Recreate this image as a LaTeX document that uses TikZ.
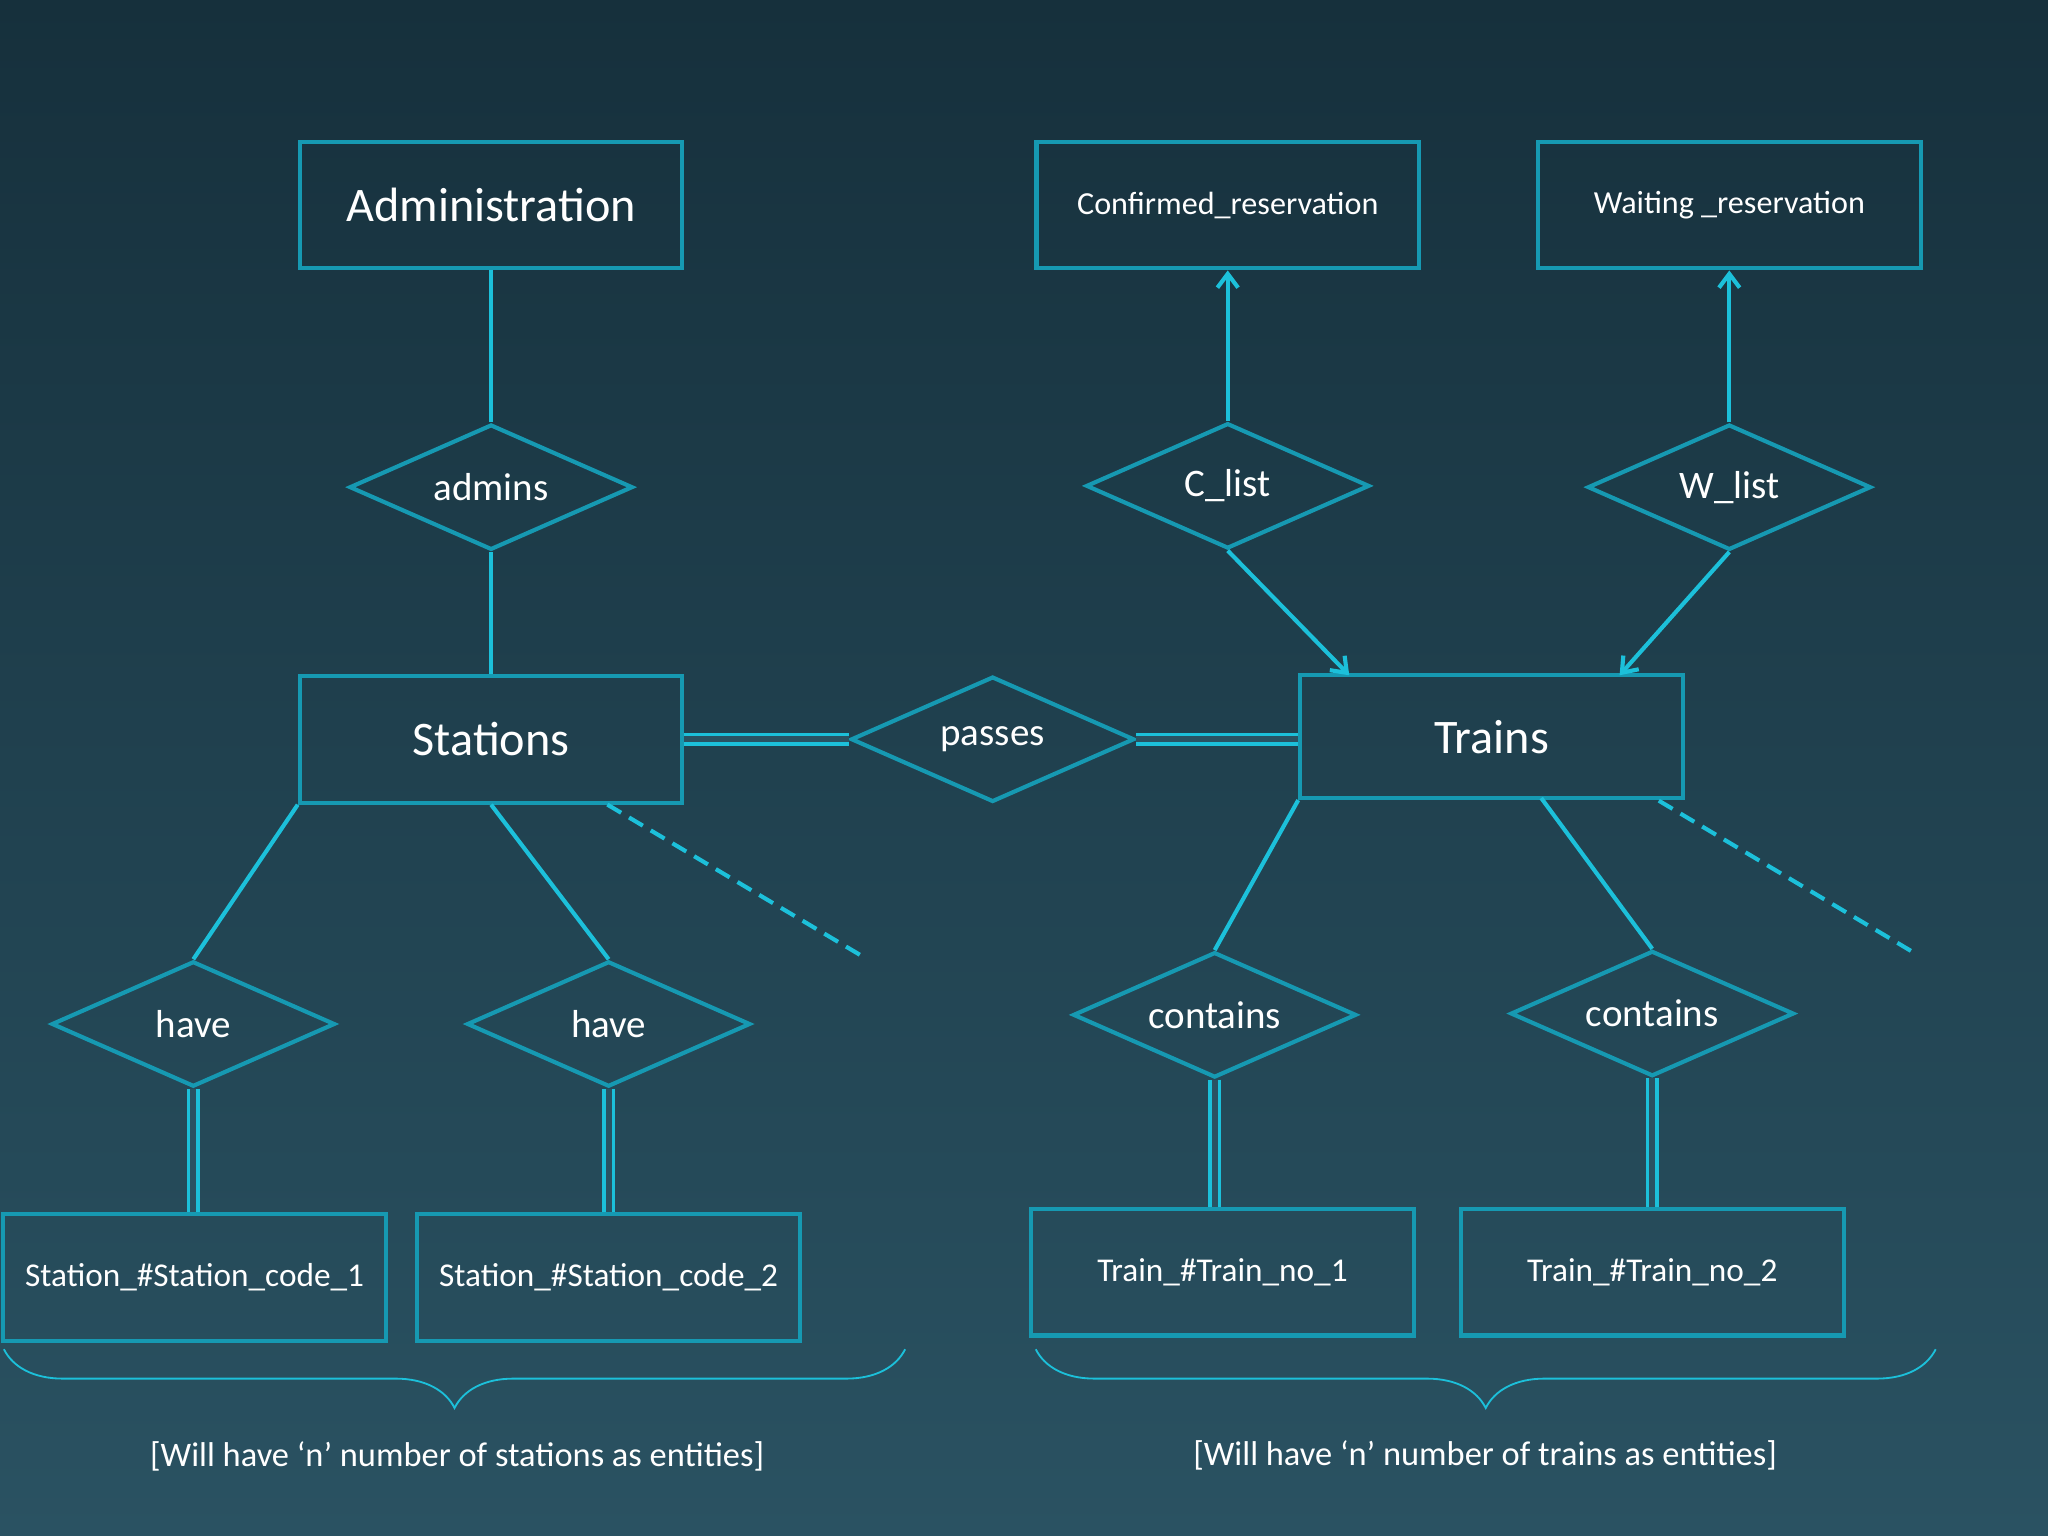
\documentclass[tikz,border=0pt]{standalone}
\usepackage{fontspec}
\setmainfont{Carlito}
\usetikzlibrary{shapes.geometric,arrows.meta,decorations.pathreplacing}
\definecolor{ln}{HTML}{1CC0DA}
\definecolor{bx}{HTML}{1699B2}
\definecolor{bgA}{HTML}{16303C}
\definecolor{bgB}{HTML}{2A5262}
\begin{document}
\begin{tikzpicture}[x=0.02cm,y=-0.02cm,
  ent/.style={draw=bx,line width=1.8pt,minimum width=5.86cm,minimum height=1.94cm,text=white,inner sep=0},
  rel/.style={diamond,aspect=2.26,draw=bx,line width=1.8pt,minimum width=4.34cm,minimum height=1.92cm,inner sep=0,text=white,font=\fontsize{17}{20}\selectfont},
  con/.style={ln,line width=1.8pt},
  dbl/.style={draw=ln,line width=1.5pt,double=bgB,double distance=2.5pt},
  arr/.style={con,-{Straight Barb[length=6pt,width=9pt]}}]
\shade[top color=bgA,bottom color=bgB] (0,0) rectangle (1568,1176);
\useasboundingbox (0,0) rectangle (1568,1176);
\node[ent,font=\fontsize{21}{25}\selectfont] (adm) at (376,157) {Administration};
\node[ent,font=\fontsize{14}{17}\selectfont] (conf) at (940,157) {Confirmed\_reservation};
\node[ent,font=\fontsize{14}{17}\selectfont] (wait) at (1324,157) {Waiting \_reservation};
\node[rel] (admins) at (376,373) {admins};
\node[rel] (clist) at (940,372) {C\_list};
\node[rel] (wlist) at (1324,373) {W\_list};
\node[ent,font=\fontsize{21}{25}\selectfont] (st) at (376,566) {Stations};
\node[rel] (pass) at (760,566) {passes};
\node[ent,minimum height=1.88cm,font=\fontsize{21}{25}\selectfont] (tr) at (1142,564) {Trains};
\node[rel] (h1) at (148,784) {have};
\node[rel] (h2) at (466,784) {have};
\node[rel] (c1) at (930,777) {contains};
\node[rel] (c2) at (1265,776) {contains};
\node[ent,font=\fontsize{14.5}{17}\selectfont] (s1) at (149,978) {Station\_\#Station\_code\_1};
\node[ent,font=\fontsize{14.5}{17}\selectfont] (s2) at (466,978) {Station\_\#Station\_code\_2};
\node[ent,font=\fontsize{14.5}{17}\selectfont] (t1) at (936,974) {Train\_\#Train\_no\_1};
\node[ent,font=\fontsize{14.5}{17}\selectfont] (t2) at (1265,974) {Train\_\#Train\_no\_2};
\draw[con] (adm.south) -- (admins.north);
\draw[con] (admins.south) -- (st.north);
\draw[arr] (clist.north) -- (conf.south);
\draw[arr] (wlist.north) -- (wait.south);
\coordinate (ta) at (1033,517); \coordinate (tb) at (1240,517);
\draw[arr] (clist.south) -- (ta);
\draw[arr] (wlist.south) -- (tb);
\draw[dbl] (st.east) -- (pass.west);
\draw[dbl] (pass.east) -- (pass.east -| tr.west);
\draw[con] (st.south west) -- (h1.north);
\draw[con] (st.south) -- (h2.north);
\coordinate (sd1) at (465,616); \coordinate (sd2) at (660,732);
\draw[con,dash pattern=on 7pt off 4pt] (sd1) -- (sd2);
\draw[con] (tr.south west) -- (c1.north);
\coordinate (tc) at (1180,611);
\draw[con] (tc) -- (c2.north);
\coordinate (td1) at (1270,613); \coordinate (td2) at (1463,728);
\draw[con,dash pattern=on 7pt off 4pt] (td1) -- (td2);
\draw[dbl] (h1.south) -- (h1.south |- s1.north);
\draw[dbl] (h2.south) -- (h2.south |- s2.north);
\draw[dbl] (c1.south) -- (c1.south |- t1.north);
\draw[dbl] (c2.south) -- (c2.south |- t2.north);
\coordinate (b1a) at (3,1033); \coordinate (b1b) at (693,1033);
\coordinate (b2a) at (793,1033); \coordinate (b2b) at (1482,1033);
\draw[ln,line width=0.8pt,decorate,decoration={brace,amplitude=0.9cm}] (b1b) -- (b1a);
\draw[ln,line width=0.8pt,decorate,decoration={brace,amplitude=0.9cm}] (b2b) -- (b2a);
\node[text=white,font=\fontsize{15}{18}\selectfont] (l1) at (350,1115) {[Will have ‘n’ number of stations as entities]};
\node[text=white,font=\fontsize{15}{18}\selectfont] (l2) at (1137,1114) {[Will have ‘n’ number of trains as entities]};
\end{tikzpicture}
\end{document}
